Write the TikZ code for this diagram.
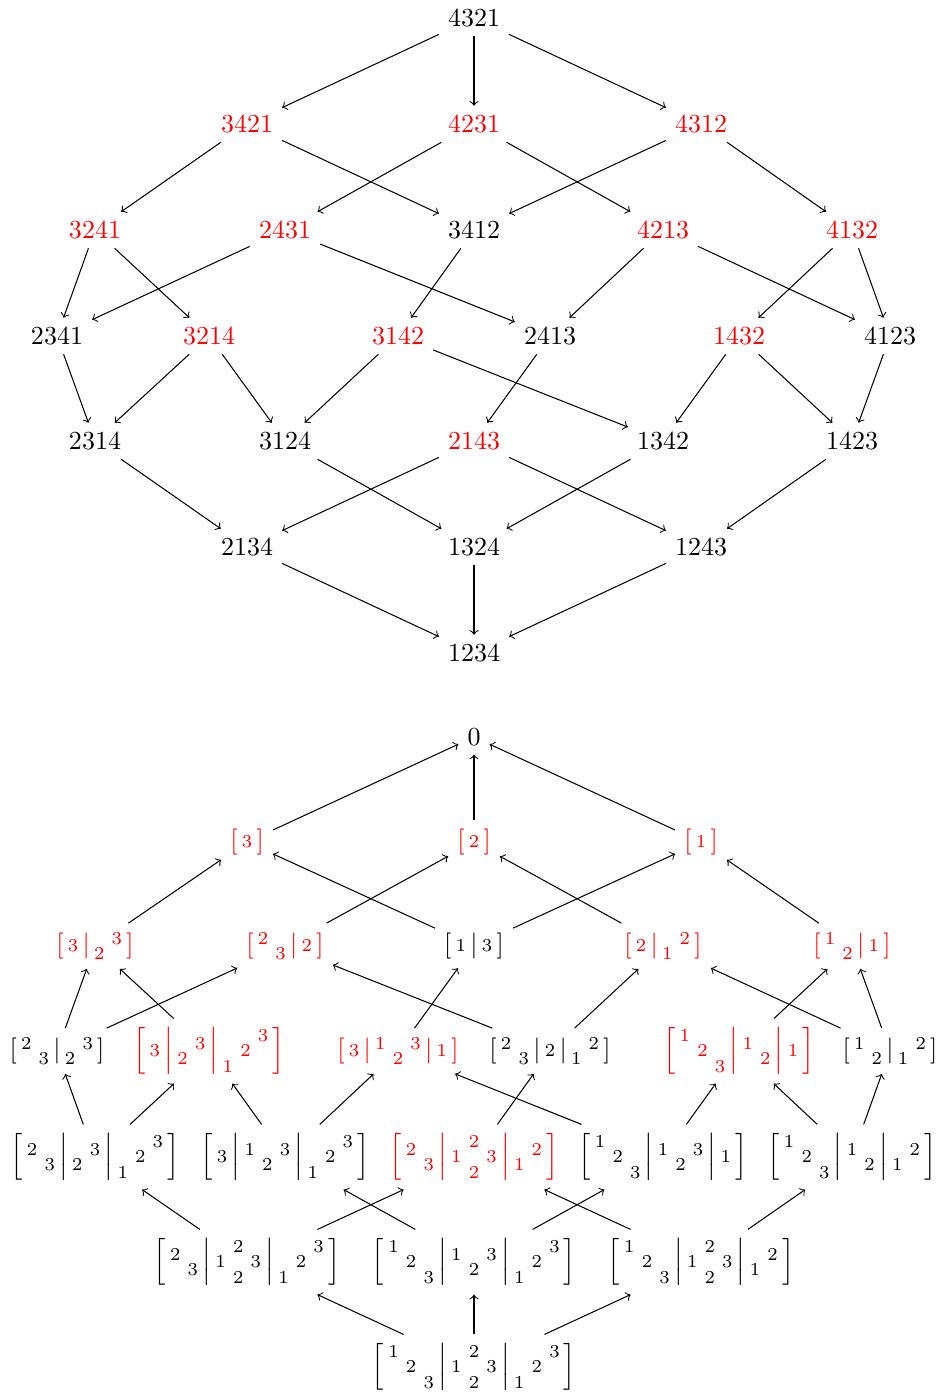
\documentclass[tikz,border=0pt]{standalone}
\usepackage{amsmath}
\newcommand{\mm}[1]{\begin{smallmatrix}#1\end{smallmatrix}}
\newcommand{\ml}{\middle|}
\tikzset{
  perm/.style={inner sep=3.333pt},
  hot/.style={text=red},
  arr/.style={->},
}
\begin{document}
\begin{tikzpicture}[x=0.3846pt,y=-0.3846pt]
\useasboundingbox (0,0) rectangle (940,1398);
% ---------- top diagram ----------
\node[perm] (t4321) at (474,18) {4321};
\node[perm,hot] (t3421) at (247,124) {3421};
\node[perm,hot] (t4231) at (474,124) {4231};
\node[perm,hot] (t4312) at (701,124) {4312};
\node[perm,hot] (t3241) at (95,230) {3241};
\node[perm,hot] (t2431) at (285,230) {2431};
\node[perm] (t3412) at (474,230) {3412};
\node[perm,hot] (t4213) at (663,230) {4213};
\node[perm,hot] (t4132) at (852,230) {4132};
\node[perm] (t2341) at (57,336) {2341};
\node[perm,hot] (t3214) at (209,336) {3214};
\node[perm,hot] (t3142) at (398,336) {3142};
\node[perm] (t2413) at (550,336) {2413};
\node[perm,hot] (t1432) at (739,336) {1432};
\node[perm] (t4123) at (890,336) {4123};
\node[perm] (t2314) at (95,441) {2314};
\node[perm] (t3124) at (285,441) {3124};
\node[perm,hot] (t2143) at (474,441) {2143};
\node[perm] (t1342) at (663,441) {1342};
\node[perm] (t1423) at (852,441) {1423};
\node[perm] (t2134) at (247,547) {2134};
\node[perm] (t1324) at (474,547) {1324};
\node[perm] (t1243) at (701,547) {1243};
\node[perm] (t1234) at (474,653) {1234};
% ---------- bottom diagram ----------
\node[perm] (b4321) at (474,737) {$0$};
\node[perm,hot] (b3421) at (247,842) {$\left[\mm{3}\right]$};
\node[perm,hot] (b4231) at (474,842) {$\left[\mm{2}\right]$};
\node[perm,hot] (b4312) at (701,842) {$\left[\mm{1}\right]$};
\node[perm,hot] (b3241) at (95,946) {$\left[\mm{3}\ml\mm{&3\\2&}\right]$};
\node[perm,hot] (b2431) at (285,946) {$\left[\mm{2&\\&3}\ml\mm{2}\right]$};
\node[perm] (b3412) at (474,946) {$\left[\mm{1}\ml\mm{3}\right]$};
\node[perm,hot] (b4213) at (663,946) {$\left[\mm{2}\ml\mm{&2\\1&}\right]$};
\node[perm,hot] (b4132) at (852,946) {$\left[\mm{1&\\&2}\ml\mm{1}\right]$};
\node[perm] (b2341) at (57,1051) {$\left[\mm{2&\\&3}\ml\mm{&3\\2&}\right]$};
\node[perm,hot] (b3214) at (209,1051) {$\left[\mm{3}\ml\mm{&3\\2&}\ml\mm{&&3\\&2&\\1&&}\right]$};
\node[perm,hot] (b3142) at (398,1051) {$\left[\mm{3}\ml\mm{1&&3\\&2&}\ml\mm{1}\right]$};
\node[perm] (b2413) at (550,1051) {$\left[\mm{2&\\&3}\ml\mm{2}\ml\mm{&2\\1&}\right]$};
\node[perm,hot] (b1432) at (739,1051) {$\left[\mm{1&&\\&2&\\&&3}\ml\mm{1&\\&2}\ml\mm{1}\right]$};
\node[perm] (b4123) at (890,1051) {$\left[\mm{1&\\&2}\ml\mm{&2\\1&}\right]$};
\node[perm] (b2314) at (95,1157) {$\left[\mm{2&\\&3}\ml\mm{&3\\2&}\ml\mm{&&3\\&2&\\1&&}\right]$};
\node[perm] (b3124) at (285,1157) {$\left[\mm{3}\ml\mm{1&&3\\&2&}\ml\mm{&&3\\&2&\\1&&}\right]$};
\node[perm,hot] (b2143) at (474,1157) {$\left[\mm{2&\\&3}\ml\mm{&2&\\1&&3\\&2&}\ml\mm{&2\\1&}\right]$};
\node[perm] (b1342) at (663,1157) {$\left[\mm{1&&\\&2&\\&&3}\ml\mm{1&&3\\&2&}\ml\mm{1}\right]$};
\node[perm] (b1423) at (852,1157) {$\left[\mm{1&&\\&2&\\&&3}\ml\mm{1&\\&2}\ml\mm{&2\\1&}\right]$};
\node[perm] (b2134) at (247,1262) {$\left[\mm{2&\\&3}\ml\mm{&2&\\1&&3\\&2&}\ml\mm{&&3\\&2&\\1&&}\right]$};
\node[perm] (b1324) at (474,1262) {$\left[\mm{1&&\\&2&\\&&3}\ml\mm{1&&3\\&2&}\ml\mm{&&3\\&2&\\1&&}\right]$};
\node[perm] (b1243) at (701,1262) {$\left[\mm{1&&\\&2&\\&&3}\ml\mm{&2&\\1&&3\\&2&}\ml\mm{&2\\1&}\right]$};
\node[perm] (b1234) at (474,1367) {$\left[\mm{1&&\\&2&\\&&3}\ml\mm{&2&\\1&&3\\&2&}\ml\mm{&&3\\&2&\\1&&}\right]$};
% ---------- edges ----------
\foreach \a/\b in {4321/3421,4321/4231,4321/4312,
  3421/3241,3421/3412,4231/2431,4231/4213,4312/3412,4312/4132,
  3241/2341,3241/3214,2431/2341,2431/2413,3412/3142,4213/2413,4213/4123,4132/1432,4132/4123,
  2341/2314,3214/2314,3214/3124,3142/3124,3142/1342,2413/2143,1432/1342,1432/1423,4123/1423,
  2314/2134,3124/1324,2143/2134,2143/1243,1342/1324,1423/1243,
  2134/1234,1324/1234,1243/1234}{
  \draw[arr] (t\a) -- (t\b);
  \draw[arr] (b\b) -- (b\a);
}
\end{tikzpicture}
\end{document}
